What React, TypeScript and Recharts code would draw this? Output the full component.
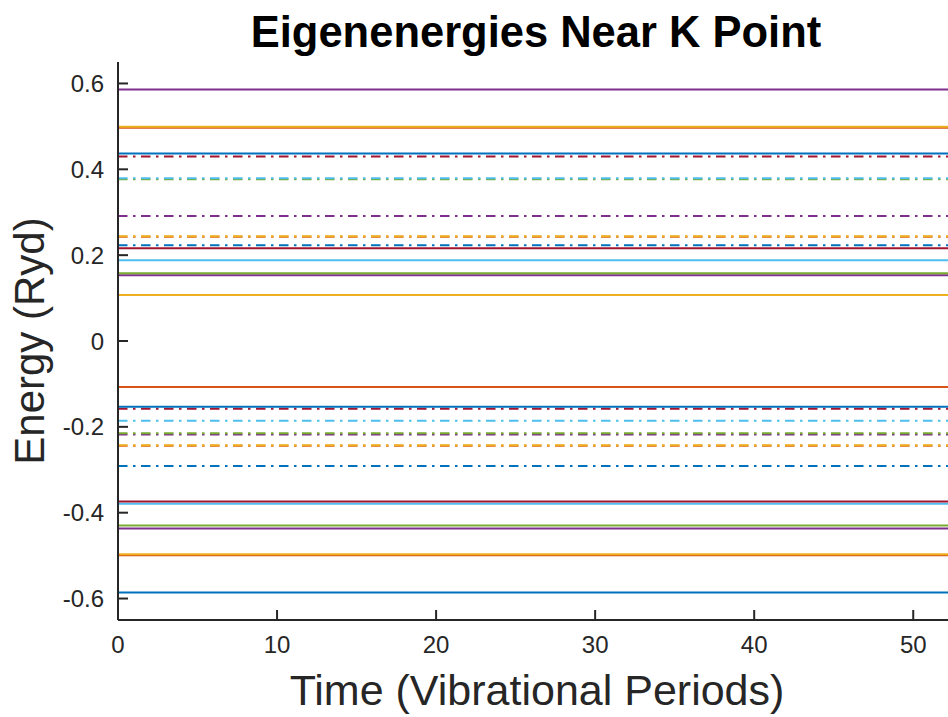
import React from 'react';
import { LineChart, Line, XAxis, YAxis } from 'recharts';

// Time axis samples (vibrational periods)
const TIME = [0, 52.5];

// Eigenenergy bands (Ryd), sorted ascending as plotted
const ENERGY_LEVELS = [
  -0.586, -0.499, -0.497, -0.437, -0.430, -0.379, -0.374,
  -0.291, -0.244, -0.243, -0.218, -0.215, -0.186, -0.158,
  -0.153, -0.107, 0.107, 0.153, 0.158, 0.188, 0.216,
  0.223, 0.243, 0.244, 0.291, 0.377, 0.379, 0.430,
  0.437, 0.497, 0.499, 0.586,
];

const X_TICKS = [0, 10, 20, 30, 40, 50];
const Y_TICKS = [-0.6, -0.4, -0.2, 0, 0.2, 0.4, 0.6];
const X_DOMAIN = [0, 52.5];
const Y_DOMAIN = [-0.65, 0.65];

const PALETTE = ['#0072BD', '#D95319', '#EDB120', '#7E2F8E', '#77AC30', '#4DBEEE', '#A2142F'];
const AX = '#262626';
const FONT = '"Liberation Sans", Arial, Helvetica, sans-serif';

const data = TIME.map((t) => {
  const row: Record<string, number> = { t };
  ENERGY_LEVELS.forEach((e, i) => {
    row['b' + i] = e;
  });
  return row;
});

const fmtY = (v: number) => (v === 0 ? '0' : v.toFixed(1));

const BottomTick = (props: any) => {
  const { x, y, payload } = props;
  return (
    <g>
      <line x1={x} x2={x} y1={y} y2={y - 10} stroke={AX} strokeWidth={2} />
      <text x={x} y={y + 33} textAnchor="middle" fontSize={24} fill={AX} fontFamily={FONT}>
        {payload.value}
      </text>
    </g>
  );
};

const TopTick = (props: any) => {
  const { x, y } = props;
  return <line x1={x} x2={x} y1={y} y2={y + 10} stroke={AX} strokeWidth={2} />;
};

const LeftTick = (props: any) => {
  const { x, y, payload } = props;
  return (
    <g>
      <line x1={x} x2={x + 10} y1={y} y2={y} stroke={AX} strokeWidth={2} />
      <text x={x - 14} y={y + 8.5} textAnchor="end" fontSize={24} fill={AX} fontFamily={FONT}>
        {fmtY(payload.value)}
      </text>
    </g>
  );
};

const RightTick = (props: any) => {
  const { x, y } = props;
  return <line x1={x} x2={x - 10} y1={y} y2={y} stroke={AX} strokeWidth={2} />;
};

export default function App() {
  return (
    <div style={{ position: 'absolute', left: 0, top: 0, width: 948, height: 717, overflow: 'hidden', background: '#fff' }}>
      <LineChart
        width={1000}
        height={717}
        data={data}
        margin={{ top: 62, right: 47, bottom: 0, left: 0 }}
      >
        <XAxis
          dataKey="t"
          type="number"
          domain={X_DOMAIN}
          ticks={X_TICKS}
          interval={0}
          height={97}
          tickSize={0}
          tickMargin={0}
          tickLine={false}
          axisLine={{ stroke: AX, strokeWidth: 2 }}
          tick={<BottomTick />}
          allowDataOverflow
        />
        <XAxis
          xAxisId="top"
          orientation="top"
          dataKey="t"
          type="number"
          domain={X_DOMAIN}
          ticks={X_TICKS}
          interval={0}
          height={0}
          tickSize={0}
          tickMargin={0}
          tickLine={false}
          axisLine={{ stroke: AX, strokeWidth: 2 }}
          tick={<TopTick />}
          allowDataOverflow
        />
        <YAxis
          type="number"
          domain={Y_DOMAIN}
          ticks={Y_TICKS}
          interval={0}
          width={118}
          tickSize={0}
          tickMargin={0}
          tickLine={false}
          axisLine={{ stroke: AX, strokeWidth: 2 }}
          tick={<LeftTick />}
          allowDataOverflow
        />
        <YAxis
          yAxisId="right"
          orientation="right"
          type="number"
          domain={Y_DOMAIN}
          ticks={Y_TICKS}
          interval={0}
          width={0}
          tickSize={0}
          tickMargin={0}
          tickLine={false}
          axisLine={{ stroke: AX, strokeWidth: 2 }}
          tick={<RightTick />}
          allowDataOverflow
        />
        {ENERGY_LEVELS.map((_, i) => (
          <Line
            key={i}
            dataKey={'b' + i}
            type="linear"
            stroke={PALETTE[i % 7]}
            strokeWidth={2}
            strokeDasharray={Math.floor(i / 7) % 2 === 1 ? '9.5 5.5 2.5 5.5' : undefined}
            dot={false}
            activeDot={false}
            isAnimationActive={false}
          />
        ))}
      </LineChart>
      <svg
        width={948}
        height={717}
        style={{ position: 'absolute', left: 0, top: 0, pointerEvents: 'none' }}
      >
        <text x={536} y={47} textAnchor="middle" fontSize={43.5} fontWeight="bold" fill="#000" fontFamily={FONT}>
          Eigenenergies Near K Point
        </text>
        <text x={537} y={705} textAnchor="middle" fontSize={43} fill={AX} fontFamily={FONT}>
          Time (Vibrational Periods)
        </text>
        <text
          x={0}
          y={0}
          transform="translate(44 341) rotate(-90)"
          textAnchor="middle"
          fontSize={42}
          fill={AX}
          fontFamily={FONT}
        >
          Energy (Ryd)
        </text>
      </svg>
    </div>
  );
}
